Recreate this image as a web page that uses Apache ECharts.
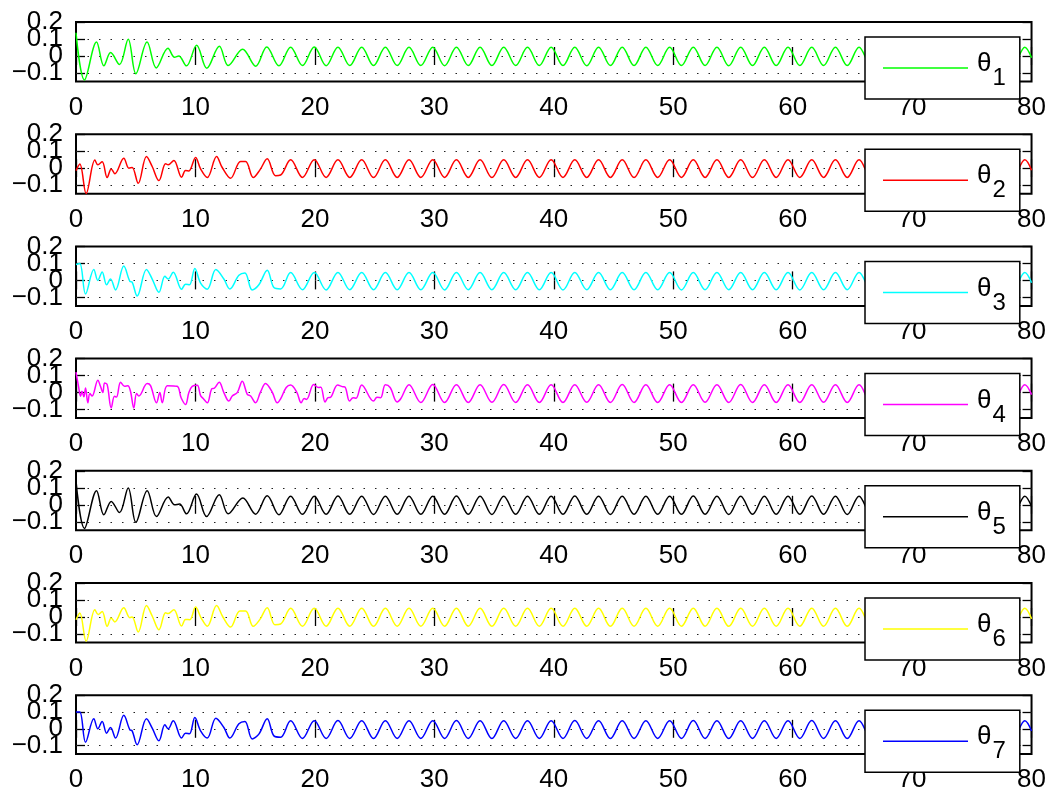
<!DOCTYPE html>
<html>
<head>
<meta charset="utf-8">
<script src="https://cdn.jsdelivr.net/npm/echarts@6/dist/echarts.min.js"></script>
<style>
  html, body { margin: 0; padding: 0; background: #fff; }
  #chart { width: 1049px; height: 793px; }
</style>
</head>
<body>
<div id="chart"></div>
<script>
// Axis ticks shared by all seven panels
const xRange = [0, 80];
const xStep = 10;
const yRange = [-0.15, 0.2];
const yTicks = [-0.1, 0, 0.1, 0.2];
const yLabelsA = [0, 0.2];     // drawn by the first left axis
const yLabelsB = [-0.1, 0.1];  // drawn by the second left axis
const gridValues = [-0.1, 0, 0.1];

const names = ['θ1', 'θ2', 'θ3', 'θ4', 'θ5', 'θ6', 'θ7'];
const colors = ['#00ff00', '#ff0000', '#00ffff', '#ff00ff', '#000000', '#ffff00', '#0000ff'];

// Times of the alternating maxima / minima of the settled oscillation
const cycleTimes = [
  17.97, 18.96, 19.95, 20.94, 21.93, 22.92, 23.92, 24.91,
  25.90, 26.89, 27.88, 28.87, 29.87, 30.86, 31.85, 32.84,
  33.83, 34.82, 35.81, 36.81, 37.80, 38.79, 39.78, 40.77,
  41.76, 42.76, 43.75, 44.74, 45.73, 46.72, 47.71, 48.70,
  49.70, 50.69, 51.68, 52.67, 53.66, 54.65, 55.65, 56.64,
  57.63, 58.62, 59.61, 60.60, 61.60, 62.59, 63.58, 64.57,
  65.56, 66.55, 67.55, 68.54, 69.53, 70.52, 71.51, 72.50,
  73.49, 74.49, 75.48, 76.47, 77.46, 78.45, 79.44, 80
];

// Transient part of each angle: [time, value]
const theta1Head = [[0,0.137],[0.71,-0.141],[1.72,0.082],[2.33,-0.058],[2.9,0.02],[3.64,-0.05],[4.37,0.099],[5.01,-0.104],[5.95,0.082],[6.72,-0.07],[7.7,0.045],[8.25,-0.008],[8.6,0.0],[9.25,-0.058],[10.1,0.063],[10.95,-0.072],[12.0,0.057],[12.74,-0.056],[13.95,0.04],[15.05,-0.06],[15.97,0.053],[16.99,-0.058]];
const theta2Head = [[0,-0.014],[0.32,0.024],[0.85,-0.149],[1.58,0.048],[1.83,0.02],[2.19,0.038],[2.61,-0.055],[2.95,-0.004],[3.25,-0.032],[4.0,0.059],[4.43,0.0],[4.7,0.004],[5.21,-0.089],[5.9,0.069],[6.38,0.01],[6.94,-0.073],[7.5,0.026],[7.72,0.02],[8.19,0.046],[8.84,-0.053],[9.17,-0.014],[9.45,-0.016],[10.01,0.063],[10.43,-0.004],[10.99,-0.055],[11.77,0.069],[12.24,0.004],[12.94,-0.059],[13.78,0.04],[14.2,0.04],[14.84,-0.055],[15.4,-0.01],[16.01,0.055],[16.7,-0.044],[17.13,-0.04]];
const theta3Head = [[0,0.094],[0.32,0.1],[0.8,-0.08],[1.49,0.064],[1.83,0.0],[2.19,0.05],[2.56,-0.026],[2.89,0.008],[3.31,-0.056],[4.0,0.084],[4.51,-0.006],[4.7,-0.01],[5.12,-0.092],[5.9,0.064],[6.38,0.008],[6.94,-0.07],[7.44,0.024],[7.72,0.008],[8.14,0.048],[8.84,-0.052],[9.17,-0.022],[9.5,-0.026],[9.95,0.07],[10.43,-0.016],[10.99,-0.052],[11.71,0.064],[12.38,0.008],[12.88,-0.05],[13.64,0.03],[14.14,0.044],[14.75,-0.056],[15.31,-0.026],[16.01,0.06],[16.57,-0.042],[17.13,-0.05]];
const theta4Head = [[0,0.12],[0.21,0.037],[0.38,-0.022],[0.5,0.008],[0.66,-0.025],[0.8,0.027],[0.99,-0.06],[1.16,-0.006],[1.35,-0.02],[1.83,0.073],[2.05,0.037],[2.25,0.0],[2.39,0.057],[2.61,0.047],[2.95,-0.09],[3.22,-0.022],[3.39,-0.026],[3.73,0.061],[4.06,0.037],[4.34,0.04],[4.56,0.008],[4.84,-0.09],[5.07,-0.006],[5.26,-0.02],[5.96,0.053],[6.24,0.041],[6.74,-0.06],[7.02,0.0],[7.22,-0.06],[7.64,0.041],[8.47,0.037],[8.8,-0.03],[9.17,-0.07],[9.45,0.0],[9.73,0.037],[10.15,0.043],[10.43,-0.018],[10.65,-0.035],[10.99,-0.06],[11.35,0.021],[11.6,0.027],[11.99,0.061],[12.38,0.0],[12.8,-0.05],[13.08,-0.02],[13.5,0.0],[13.92,0.067],[14.34,-0.01],[14.62,-0.02],[15.03,-0.06],[15.45,0.004],[15.87,0.053],[16.43,0.002],[16.85,-0.06],[17.13,-0.037],[17.6,0.03],[17.97,0.045],[18.5,0.0],[18.85,-0.06],[19.1,-0.035],[19.3,-0.04],[19.9,0.048],[20.3,0.03],[20.5,0.032],[20.85,-0.055],[21.1,-0.03],[21.3,-0.028],[21.9,0.045],[22.3,0.035],[22.55,0.03],[22.9,-0.05],[23.2,-0.03],[23.45,-0.033],[23.92,0.045],[24.91,-0.05],[25.2,-0.028],[25.5,-0.03],[25.9,0.046],[26.3,0.03],[26.89,-0.055],[27.2,-0.035],[27.88,0.046],[28.87,-0.058],[29.87,0.048]];
const theta5Head = [[0,0.14],[0.71,-0.139],[1.72,0.083],[2.33,-0.059],[2.95,0.02],[3.64,-0.046],[4.37,0.099],[5.01,-0.103],[5.96,0.083],[6.74,-0.069],[7.72,0.046],[8.25,0.0],[8.67,0.004],[9.25,-0.053],[10.09,0.063],[10.93,-0.069],[11.99,0.059],[12.74,-0.053],[13.97,0.04],[15.03,-0.055],[16.01,0.053],[16.99,-0.059]];
const theta6Head = [[0,-0.016],[0.32,0.024],[0.85,-0.143],[1.58,0.043],[1.86,0.014],[2.19,0.033],[2.61,-0.055],[2.95,-0.006],[3.25,-0.029],[4.0,0.055],[4.51,-0.004],[4.7,0.0],[5.21,-0.088],[5.9,0.067],[6.38,0.006],[6.94,-0.075],[7.5,0.025],[7.72,0.02],[8.19,0.043],[8.84,-0.053],[9.17,-0.014],[9.53,-0.016],[10.01,0.059],[10.48,-0.006],[10.99,-0.055],[11.77,0.067],[12.3,0.0],[12.94,-0.059],[13.72,0.035],[14.2,0.035],[14.84,-0.055],[15.4,-0.014],[16.01,0.055],[16.65,-0.045],[17.13,-0.041]];
const theta7Head = [[0,0.1],[0.32,0.1],[0.8,-0.08],[1.49,0.06],[1.83,0.0],[2.19,0.044],[2.56,-0.026],[2.89,0.008],[3.31,-0.055],[4.0,0.08],[4.51,-0.006],[4.7,-0.012],[5.12,-0.095],[5.9,0.06],[6.38,0.004],[6.94,-0.071],[7.44,0.024],[7.72,0.0],[8.14,0.048],[8.84,-0.055],[9.17,-0.026],[9.5,-0.03],[9.95,0.067],[10.43,-0.012],[10.99,-0.055],[11.71,0.063],[12.38,0.008],[12.88,-0.055],[13.64,0.03],[14.14,0.044],[14.75,-0.06],[15.31,-0.032],[16.01,0.06],[16.57,-0.042],[17.13,-0.05]];

// Settled oscillation: extremum values, aligned with the end of cycleTimes
const theta1Tail = [
  0.052,-0.056,0.053,-0.057,0.052,-0.056,0.052,-0.056,
  0.052,-0.056,0.051,-0.056,0.052,-0.057,0.052,-0.056,
  0.052,-0.056,0.052,-0.056,0.051,-0.056,0.052,-0.056,
  0.052,-0.057,0.052,-0.056,0.052,-0.056,0.052,-0.056,
  0.051,-0.056,0.052,-0.056,0.052,-0.057,0.052,-0.056,
  0.052,-0.056,0.052,-0.056,0.051,-0.056,0.052,-0.056,
  0.052,-0.056,0.052,-0.057,0.052,-0.056,0.052,-0.056,
  0.052,-0.056,0.051,-0.056,0.052,-0.056,0.052,-0.010
];
const theta2Tail = [
  0.049,-0.054,0.050,-0.054,0.049,-0.054,0.049,-0.055,
  0.049,-0.054,0.049,-0.054,0.050,-0.054,0.049,-0.054,
  0.049,-0.055,0.049,-0.054,0.049,-0.054,0.050,-0.054,
  0.049,-0.054,0.049,-0.054,0.049,-0.055,0.049,-0.054,
  0.050,-0.054,0.049,-0.054,0.049,-0.054,0.049,-0.055,
  0.049,-0.054,0.050,-0.054,0.049,-0.054,0.049,-0.054,
  0.049,-0.055,0.049,-0.054,0.050,-0.054,0.049,-0.054,
  0.049,-0.054,0.049,-0.054,0.049,-0.054,0.049,-0.012
];
const theta3Tail = [
  0.046,-0.055,0.046,-0.056,0.047,-0.055,0.046,-0.055,
  0.046,-0.055,0.046,-0.055,0.046,-0.056,0.047,-0.055,
  0.046,-0.055,0.046,-0.055,0.046,-0.055,0.046,-0.056,
  0.047,-0.055,0.046,-0.055,0.046,-0.055,0.046,-0.055,
  0.046,-0.056,0.046,-0.055,0.047,-0.055,0.046,-0.055,
  0.046,-0.055,0.046,-0.056,0.046,-0.055,0.046,-0.055,
  0.047,-0.055,0.046,-0.055,0.046,-0.055,0.046,-0.056,
  0.046,-0.055,0.046,-0.055,0.047,-0.055,0.046,-0.014
];
const theta4Tail = [
  -0.058,
  0.046,-0.058,0.046,-0.057,0.047,-0.058,0.046,-0.058,
  0.046,-0.058,0.046,-0.057,0.046,-0.058,0.047,-0.058,
  0.046,-0.058,0.046,-0.058,0.046,-0.057,0.046,-0.058,
  0.047,-0.058,0.046,-0.058,0.046,-0.058,0.046,-0.057,
  0.046,-0.058,0.046,-0.058,0.047,-0.058,0.046,-0.058,
  0.046,-0.057,0.046,-0.058,0.046,-0.058,0.046,-0.058,
  0.046,-0.012
];
const theta5Tail = [
  0.051,-0.056,0.051,-0.056,0.052,-0.056,0.051,-0.057,
  0.051,-0.056,0.051,-0.056,0.051,-0.056,0.052,-0.056,
  0.051,-0.057,0.051,-0.056,0.051,-0.056,0.051,-0.056,
  0.052,-0.056,0.051,-0.057,0.051,-0.056,0.051,-0.056,
  0.051,-0.056,0.052,-0.056,0.051,-0.057,0.051,-0.056,
  0.051,-0.056,0.051,-0.056,0.052,-0.056,0.051,-0.057,
  0.051,-0.056,0.051,-0.056,0.051,-0.056,0.052,-0.056,
  0.051,-0.057,0.051,-0.056,0.051,-0.056,0.051,-0.010
];
const theta6Tail = [
  0.051,-0.054,0.051,-0.054,0.052,-0.054,0.051,-0.055,
  0.051,-0.054,0.051,-0.054,0.051,-0.054,0.052,-0.054,
  0.051,-0.055,0.051,-0.054,0.051,-0.054,0.051,-0.054,
  0.052,-0.054,0.051,-0.055,0.051,-0.054,0.051,-0.054,
  0.051,-0.054,0.052,-0.054,0.051,-0.055,0.051,-0.054,
  0.051,-0.054,0.051,-0.054,0.052,-0.054,0.051,-0.055,
  0.051,-0.054,0.051,-0.054,0.051,-0.054,0.052,-0.054,
  0.051,-0.055,0.051,-0.054,0.051,-0.054,0.051,-0.011
];
const theta7Tail = [
  0.048,-0.057,0.048,-0.057,0.049,-0.057,0.048,-0.058,
  0.048,-0.057,0.048,-0.057,0.048,-0.057,0.049,-0.057,
  0.048,-0.058,0.048,-0.057,0.048,-0.057,0.048,-0.057,
  0.049,-0.057,0.048,-0.058,0.048,-0.057,0.048,-0.057,
  0.048,-0.057,0.049,-0.057,0.048,-0.058,0.048,-0.057,
  0.048,-0.057,0.048,-0.057,0.049,-0.057,0.048,-0.058,
  0.048,-0.057,0.048,-0.057,0.048,-0.057,0.049,-0.057,
  0.048,-0.058,0.048,-0.057,0.048,-0.057,0.048,-0.013
];

const heads = [theta1Head, theta2Head, theta3Head, theta4Head, theta5Head, theta6Head, theta7Head];
const tails = [theta1Tail, theta2Tail, theta3Tail, theta4Tail, theta5Tail, theta6Tail, theta7Tail];

function joinSeries(head, tail) {
  const offset = cycleTimes.length - tail.length;
  return head.concat(tail.map((v, i) => [cycleTimes[offset + i], v]));
}

const FONT = '"Liberation Sans", Arial, Helvetica, sans-serif';
const LEFT = 76, RIGHT = 17, TOP0 = 22, STEP = 112.2, HEIGHT = 59.5;

const fmtY = v => {
  if (Math.abs(v) < 1e-9) return '0';
  const s = Math.abs(v).toFixed(1);
  return v < 0 ? '\u2212' + s : s;
};

const grids = [], xAxes = [], yAxes = [], series = [], legends = [];

names.forEach((name, i) => {
  const top = TOP0 + STEP * i;
  grids.push({
    left: LEFT, right: RIGHT, top: top, height: HEIGHT,
    show: true, borderColor: '#000', borderWidth: 2, backgroundColor: '#fff'
  });
  const tickStyle = { show: true, inside: true, length: 9, lineStyle: { color: '#000', width: 1.3 } };
  const labelStyle = { color: '#000', fontFamily: FONT, fontSize: 26, margin: 13, hideOverlap: false };
  xAxes.push({
    type: 'value', gridIndex: i, position: 'bottom',
    min: xRange[0], max: xRange[1], interval: xStep,
    axisLine: { show: false }, splitLine: { show: false },
    axisTick: tickStyle,
    axisLabel: labelStyle
  });
  xAxes.push({
    type: 'value', gridIndex: i, position: 'top',
    min: xRange[0], max: xRange[1], interval: xStep,
    axisLine: { show: false }, splitLine: { show: false },
    axisTick: tickStyle, axisLabel: { show: false }
  });
  // left axis: all tick marks plus two of the labels
  yAxes.push({
    type: 'value', gridIndex: i, position: 'left',
    min: yRange[0], max: yRange[1],
    axisLine: { show: false }, splitLine: { show: false },
    axisTick: Object.assign({ customValues: yTicks }, tickStyle),
    axisLabel: Object.assign({ customValues: yLabelsA, formatter: fmtY, showMinLabel: true, showMaxLabel: true }, labelStyle)
  });
  // second left axis: the remaining labels, which would otherwise overlap
  yAxes.push({
    type: 'value', gridIndex: i, position: 'left', offset: 0,
    min: yRange[0], max: yRange[1],
    axisLine: { show: false }, splitLine: { show: false },
    axisTick: { show: false },
    axisLabel: Object.assign({ customValues: yLabelsB, formatter: fmtY, showMinLabel: true, showMaxLabel: true }, labelStyle)
  });
  // right axis: tick marks only
  yAxes.push({
    type: 'value', gridIndex: i, position: 'right',
    min: yRange[0], max: yRange[1],
    axisLine: { show: false }, splitLine: { show: false },
    axisTick: Object.assign({ customValues: yTicks }, tickStyle),
    axisLabel: { show: false }
  });
  series.push({
    name: name, type: 'line',
    xAxisIndex: 2 * i, yAxisIndex: 3 * i,
    data: joinSeries(heads[i], tails[i]),
    symbol: 'none', showSymbol: false, smooth: 0.36,
    lineStyle: { color: colors[i], width: 1.5 },
    itemStyle: { color: colors[i] },
    markLine: {
      silent: true, symbol: ['none', 'none'], animation: false, z: 1,
      label: { show: false },
      lineStyle: { color: '#222', width: 1, type: [1.5, 10] },
      emphasis: { disabled: true },
      data: gridValues.map(v => ({ yAxis: v }))
    }
  });
  legends.push({
    data: [{ name: name, icon: 'rect' }],
    left: 865, top: top + 15,
    backgroundColor: '#fff', borderColor: '#000', borderWidth: 1.5, borderRadius: 0,
    padding: [8, 14, 8, 18],
    itemWidth: 85, itemHeight: 1.5, selectedMode: false,
    formatter: n => '{t|θ}{s|' + n.slice(1) + '}',
    textStyle: {
      color: '#000', fontFamily: FONT, fontSize: 26, lineHeight: 46,
      rich: {
        t: { fontFamily: FONT, fontSize: 26, lineHeight: 46, verticalAlign: 'middle', padding: [0, 0, 8, 4] },
        s: { fontFamily: FONT, fontSize: 24, lineHeight: 46, verticalAlign: 'middle', padding: [21, 0, 0, 1] }
      }
    }
  });
});

const chart = echarts.init(document.getElementById('chart'), null, { renderer: 'canvas' });
chart.setOption({
  animation: false,
  backgroundColor: '#fff',
  grid: grids, xAxis: xAxes, yAxis: yAxes,
  legend: legends, series: series
});
</script>
</body>
</html>
